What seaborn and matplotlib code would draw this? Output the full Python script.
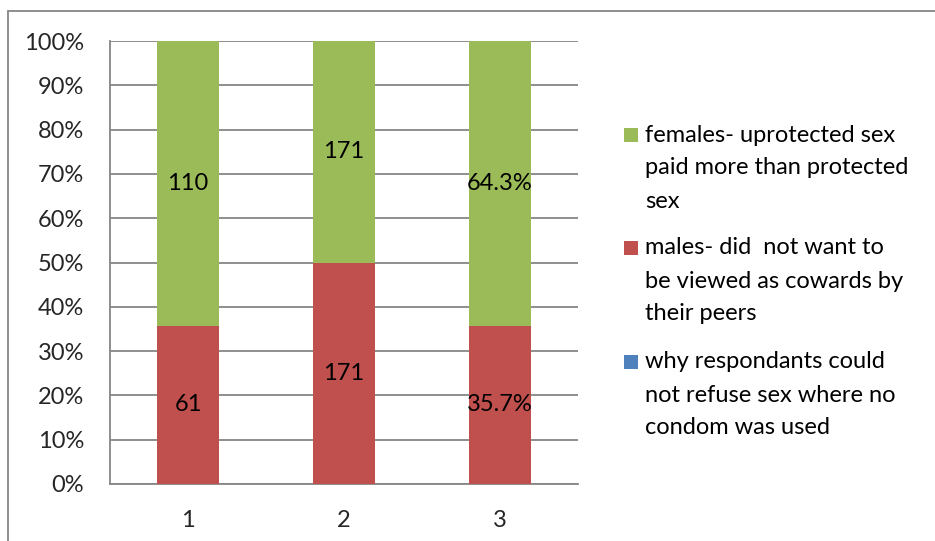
import matplotlib
matplotlib.use("Agg")
import matplotlib.pyplot as plt
from matplotlib.lines import Line2D
from matplotlib.patches import Rectangle
from matplotlib.ticker import FixedLocator, PercentFormatter
import pandas as pd
import seaborn as sns

categories = ["1", "2", "3"]
males_pct = [35.7, 50.0, 35.7]
females_pct = [64.3, 50.0, 64.3]
why_pct = [0.0, 0.0, 0.0]
males_labels = ["61", "171", "35.7%"]
females_labels = ["110", "171", "64.3%"]
legend_labels = [
    ["females- uprotected sex", "paid more than protected", "sex"],
    ["males- did  not want to", "be viewed as cowards by", "their peers"],
    ["why respondants could", "not refuse sex where no", "condom was used"],
]

GREEN = "#9BBB59"
RED = "#C0504D"
BLUE = "#4F81BD"
GRAY = "#868686"
W, H = 935, 541
FS = 17

sns.set_style("white")
plt.rcParams["font.family"] = ["Lato", "DejaVu Sans"]

df = pd.DataFrame({
    "cat": categories,
    "why": why_pct,
    "males": males_pct,
    "females": females_pct,
})
df["top"] = df["why"] + df["males"] + df["females"]
df["mid"] = df["why"] + df["males"]

fig = plt.figure(figsize=(W / 100, H / 100), dpi=100)
ax = fig.add_axes([110 / W, 1 - 484 / H, 468 / W, 443 / H])

for col, c in [("top", GREEN), ("mid", RED), ("why", BLUE)]:
    sns.barplot(data=df, x="cat", y=col, color=c, width=0.4, saturation=1,
                linewidth=0, ax=ax, zorder=3)

for i in range(len(categories)):
    ax.text(i, df["mid"][i] + df["females"][i] / 2, females_labels[i], ha="center", va="center",
            fontsize=FS, color="black", zorder=5)
    ax.text(i, df["why"][i] + df["males"][i] / 2, males_labels[i], ha="center", va="center",
            fontsize=FS, color="black", zorder=5)

ax.set_xlim(-0.5, 2.5)
ax.set_ylim(0, 100)
ax.yaxis.set_major_locator(FixedLocator(range(0, 101, 10)))
ax.yaxis.set_major_formatter(PercentFormatter(decimals=0))
ax.set_xlabel("")
ax.set_ylabel("")
ax.grid(axis="y", color=GRAY, linewidth=1.3, zorder=0)
ax.set_axisbelow(True)

ax.xaxis.set_minor_locator(FixedLocator([-0.5, 0.5, 1.5, 2.5]))
ax.tick_params(axis="x", which="major", length=0, pad=19, labelsize=FS)
ax.tick_params(axis="x", which="minor", length=6, width=1.3, color=GRAY, direction="out")
ax.tick_params(axis="y", which="major", length=6.5, width=1.3, color=GRAY, direction="out",
               labelsize=FS, pad=12)

for s in ["top", "right"]:
    ax.spines[s].set_visible(False)
for s in ["left", "bottom"]:
    ax.spines[s].set_color(GRAY)
    ax.spines[s].set_linewidth(1.3)

# legend: square aligned with the first line of each entry
colors = [GREEN, RED, BLUE]
block_y = [135, 248, 362]
for lines, c, y0 in zip(legend_labels, colors, block_y):
    fig.add_artist(Rectangle((624 / W, 1 - (y0 + 7) / H), 14 / W, 14 / H,
                             transform=fig.transFigure, facecolor=c, edgecolor="none"))
    for k, line in enumerate(lines):
        fig.text(645 / W, 1 - (y0 + 33 * k) / H, line, ha="left", va="center",
                 fontsize=FS, color="black")

# outer chart frame (only top and left edges visible)
fig.add_artist(Line2D([8 / W, 1.0], [1 - 11 / H, 1 - 11 / H], color=GRAY, linewidth=1.3))
fig.add_artist(Line2D([8 / W, 8 / W], [0.0, 1 - 11 / H], color=GRAY, linewidth=1.3))

fig.savefig("out.png", dpi=100)
